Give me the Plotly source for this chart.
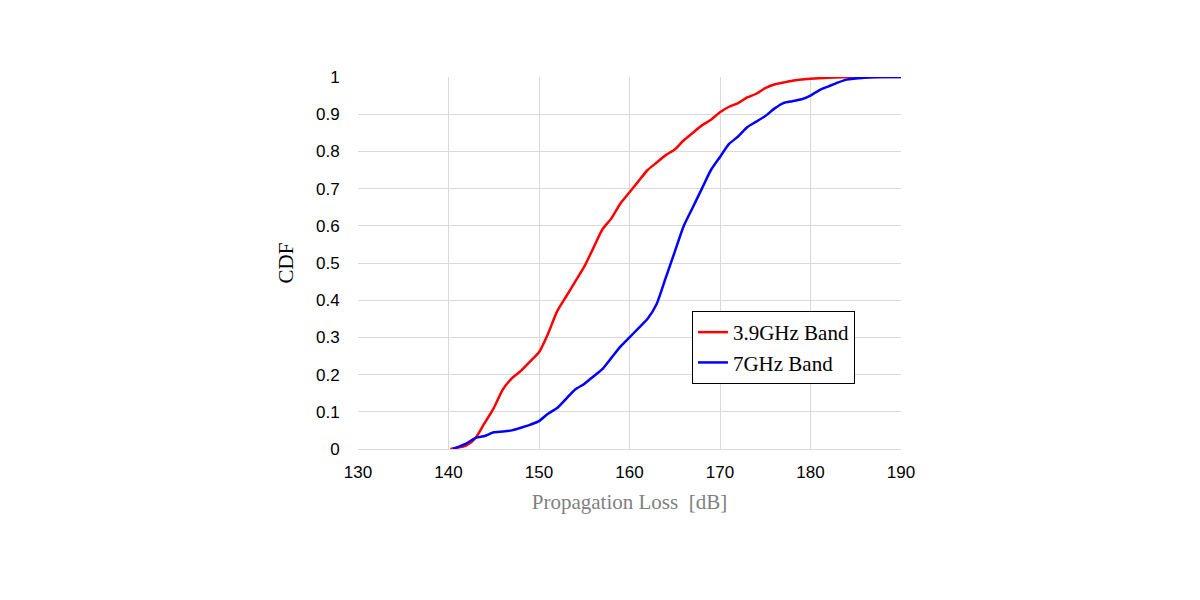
import plotly.graph_objects as go

red_x = [140.2, 142, 143, 144, 145, 146, 147, 148, 149, 150, 151, 152, 153, 154, 155, 156, 157, 158, 159, 160,
         161, 162, 163, 164, 165, 166, 167, 168, 169, 170, 171, 172, 173, 174, 175, 176, 177, 178, 180, 182, 185, 190]
red_y = [0, 0.01, 0.03, 0.07, 0.11, 0.16, 0.19, 0.21, 0.235, 0.26, 0.31, 0.37, 0.41, 0.45, 0.49, 0.54, 0.59, 0.62, 0.66, 0.69,
         0.72, 0.75, 0.77, 0.79, 0.805, 0.83, 0.85, 0.87, 0.885, 0.905, 0.92, 0.93, 0.945, 0.955, 0.97, 0.98, 0.985, 0.99, 0.995, 0.998, 1, 1]

blue_x = [140.5, 141, 142, 143, 144, 145, 146, 147, 148, 149, 150, 151, 152, 153, 154, 155, 156, 157, 158, 159, 160,
          161, 162, 163, 164, 165, 166, 167, 168, 169, 170, 171, 172, 173, 174, 175, 176, 177, 178, 179, 180,
          181, 182, 183, 184, 186, 188, 190]
blue_y = [0, 0.005, 0.015, 0.03, 0.035, 0.045, 0.047, 0.05, 0.057, 0.065, 0.075, 0.095, 0.11, 0.135, 0.16, 0.175, 0.195, 0.215, 0.245, 0.275, 0.3,
          0.325, 0.35, 0.39, 0.46, 0.53, 0.6, 0.65, 0.7, 0.75, 0.785, 0.82, 0.84, 0.865, 0.88, 0.895, 0.915, 0.93, 0.935, 0.94, 0.95,
          0.965, 0.975, 0.985, 0.993, 0.998, 1, 1]

fig = go.Figure()
fig.add_trace(go.Scatter(x=red_x, y=red_y, mode="lines", name="3.9GHz Band",
                         line=dict(color="#ff0000", width=2.5, shape="spline", smoothing=0.6)))
fig.add_trace(go.Scatter(x=blue_x, y=blue_y, mode="lines", name="7GHz Band",
                         line=dict(color="#0000ff", width=2.5, shape="spline", smoothing=0.6)))

fig.update_layout(
    width=1200, height=600,
    margin=dict(l=350, r=307, t=69, b=159),
    plot_bgcolor="white", paper_bgcolor="white",
    font=dict(family="Liberation Sans", size=17, color="black"),
    legend=dict(x=0.615, y=0.371, xanchor="left", yanchor="top",
                bordercolor="black", borderwidth=1, bgcolor="white",
                font=dict(family="Liberation Serif", size=21),
                tracegroupgap=0),
    xaxis=dict(range=[130, 190], dtick=10, showgrid=True, gridcolor="#d9d9d9",
               showline=True, linecolor="#d9d9d9", zeroline=False,
               ticks="outside", ticklen=8, tickcolor="white", automargin=False,
               title=dict(text="Propagation Loss  [dB]", standoff=12,
                          font=dict(family="Liberation Serif", size=21, color="#7f7f7f"))),
    yaxis=dict(range=[0, 1], dtick=0.1, showgrid=True, gridcolor="#d9d9d9",
               showline=False, zeroline=False,
               ticks="outside", ticklen=14, tickcolor="white", automargin=False,
               title=dict(text="CDF", standoff=16,
                          font=dict(family="Liberation Serif", size=21, color="black"))),
)

fig.write_html("out.html")
